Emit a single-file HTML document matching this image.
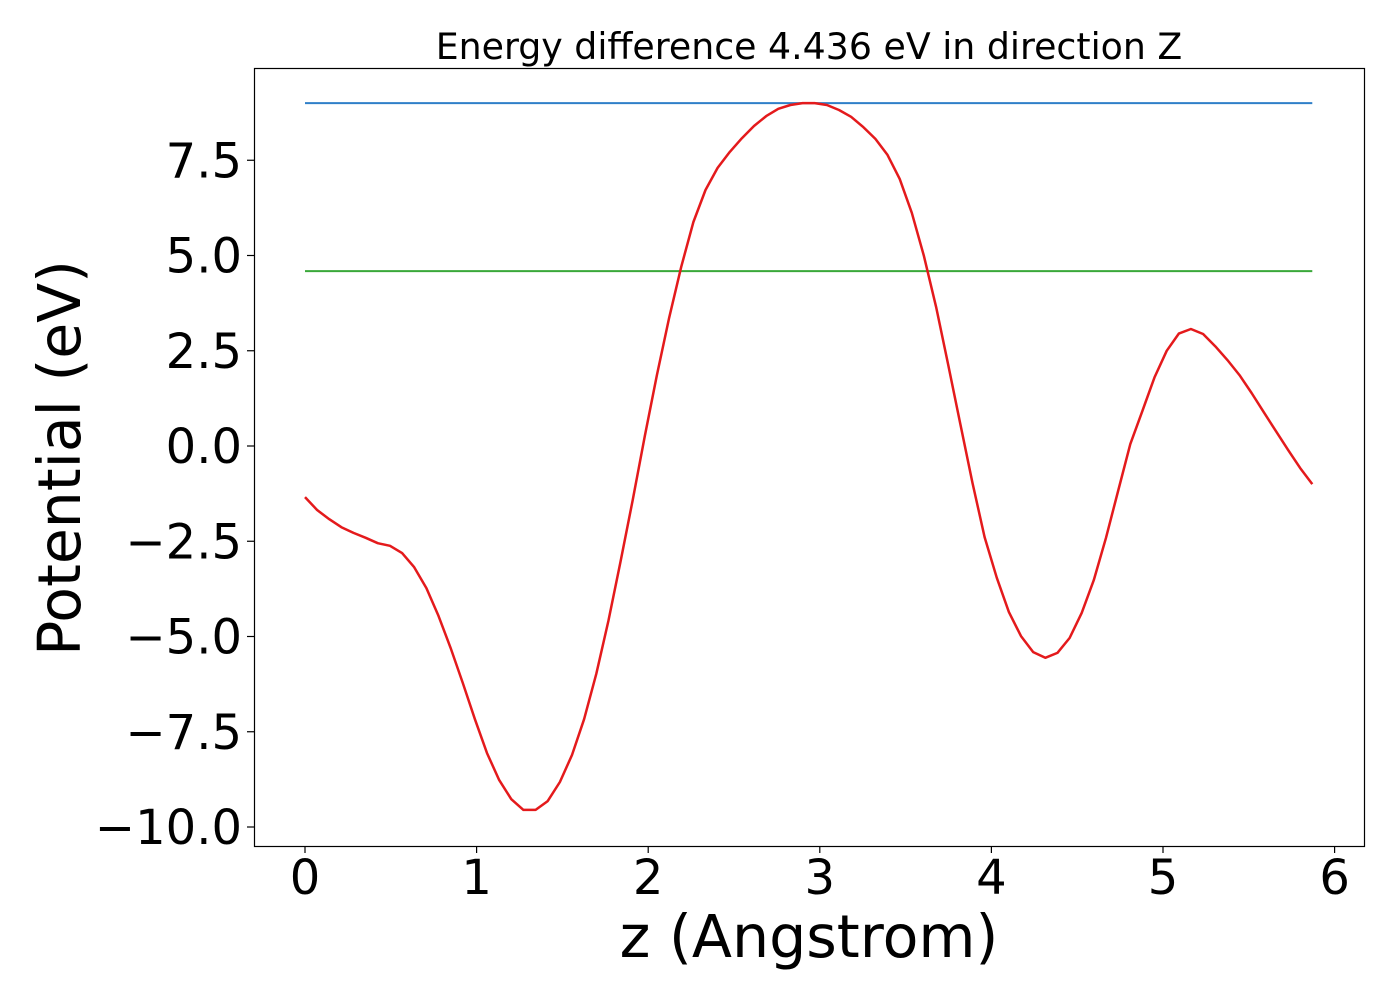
<!DOCTYPE html>
<html><head><meta charset="utf-8"><style>
html,body{margin:0;padding:0;background:#fff;}
svg{display:block;font-family:"DejaVu Sans","Liberation Sans",sans-serif;}
</style></head><body>
<svg id="chart" width="1400" height="1000" viewBox="0 0 1400 1000" xmlns="http://www.w3.org/2000/svg">
<rect width="1400" height="1000" fill="#fff"/>
<text x="809" y="59" font-size="36.3" text-anchor="middle">Energy difference 4.436 eV in direction Z</text>
<g id="plot"></g>
<rect x="254.5" y="68.5" width="1110" height="778" fill="none" stroke="#000" stroke-width="1.2"/>
<text x="809" y="957" font-size="58.6" text-anchor="middle">z (Angstrom)</text>
<text transform="translate(80,458) rotate(-90)" font-size="58.4" text-anchor="middle">Potential (eV)</text>
</svg>
<script>
const potential = [-1.34,-1.68,-1.92,-2.13,-2.28,-2.41,-2.55,-2.62,-2.81,-3.18,-3.73,-4.46,-5.30,-6.22,-7.17,-8.06,-8.77,-9.27,-9.55,-9.55,-9.32,-8.82,-8.11,-7.17,-5.98,-4.59,-3.04,-1.42,0.26,1.86,3.36,4.70,5.88,6.72,7.30,7.72,8.08,8.40,8.66,8.85,8.95,9.00,9.00,8.95,8.82,8.64,8.37,8.06,7.64,7.01,6.12,4.99,3.65,2.13,0.58,-0.97,-2.39,-3.46,-4.36,-4.99,-5.41,-5.56,-5.43,-5.04,-4.38,-3.52,-2.41,-1.18,0.05,0.92,1.8,2.5,2.95,3.07,2.94,2.62,2.26,1.86,1.39,0.89,0.39,-0.10,-0.58,-1.0];
const zMax = 5.87;
const maxLevel = 9.0;
const meanLevel = 4.59;
const xTicks = [0,1,2,3,4,5,6];
const xTickLabels = ["0","1","2","3","4","5","6"];
const yTicks = [7.5,5.0,2.5,0.0,-2.5,-5.0,-7.5,-10.0];
const yTickLabels = ["7.5","5.0","2.5","0.0","\u22122.5","\u22125.0","\u22127.5","\u221210.0"];

const NS="http://www.w3.org/2000/svg";
const X = z => 305 + z*171.6;
const Y = v => 446 - v*38.1;
const g = document.getElementById('plot');
function mk(tag, attrs){const e=document.createElementNS(NS,tag);for(const k in attrs)e.setAttribute(k,attrs[k]);return e;}

xTicks.forEach((t,i)=>{
  const l=mk('line',{x1:X(t),x2:X(t),y1:846,y2:853,stroke:'#000','stroke-width':1.2});
  
  
  g.appendChild(l);
  const tx=mk('text',{x:X(t),y:894,'font-size':48,'text-anchor':'middle'});
  tx.textContent=xTickLabels[i];
  
  
  g.appendChild(tx);
});
yTicks.forEach((t,i)=>{
  const l=mk('line',{x1:247,x2:254,y1:Y(t),y2:Y(t),stroke:'#000','stroke-width':1.2});
  
  
  g.appendChild(l);
  const tx=mk('text',{x:242,y:Y(t)+17,'font-size':48,'text-anchor':'end'});
  tx.textContent=yTickLabels[i];
  
  
  g.appendChild(tx);
});
const n=potential.length;
const step=zMax/(n-1);
const maxLine=mk('line',{x1:X(0),x2:X(zMax),y1:Y(maxLevel),y2:Y(maxLevel),stroke:'#2f7fc8','stroke-width':2});


g.appendChild(maxLine);
const meanLine=mk('line',{x1:X(0),x2:X(zMax),y1:Y(meanLevel),y2:Y(meanLevel),stroke:'#3aa83a','stroke-width':2});


g.appendChild(meanLine);
const pts=potential.map((v,i)=>X(i*step).toFixed(1)+','+Y(v).toFixed(1)).join(' ');
const curve=mk('polyline',{points:pts,fill:'none',stroke:'#e41a1c','stroke-width':2.5,'stroke-linejoin':'round'});


g.appendChild(curve);
</script>
</body></html>
